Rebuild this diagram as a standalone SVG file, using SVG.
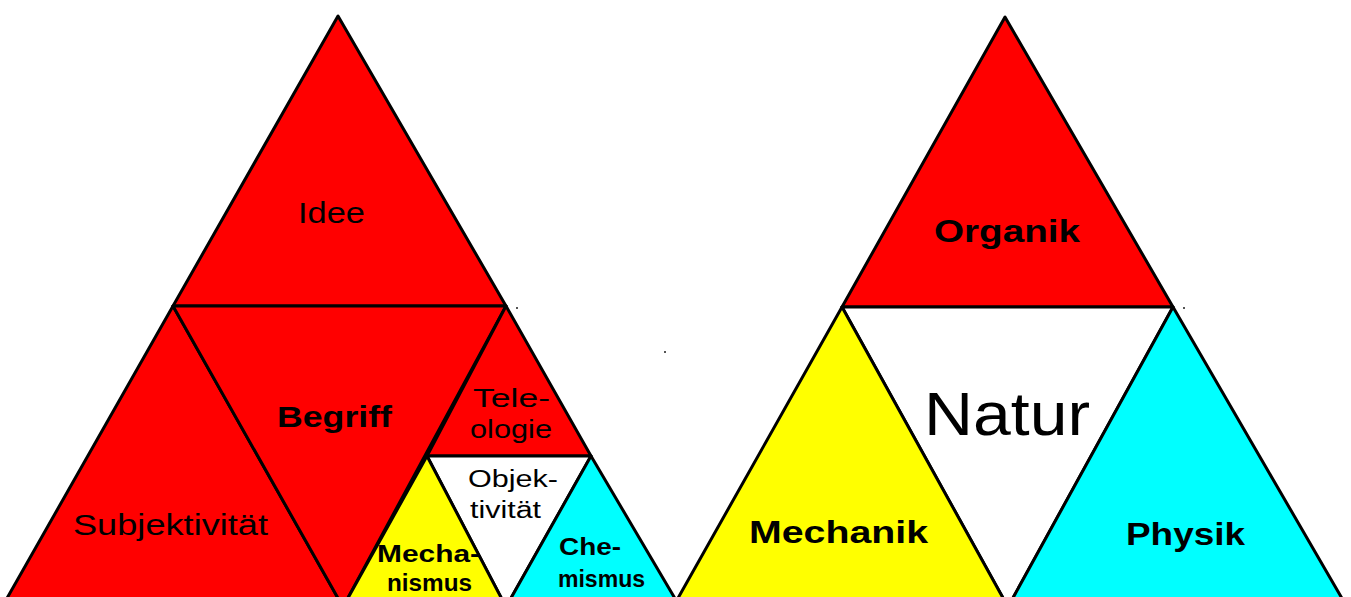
<svg xmlns="http://www.w3.org/2000/svg" width="1351" height="597" viewBox="0 0 1351 597">
  <style>
    .tri { stroke: #000; stroke-width: 3; stroke-linejoin: round; }
    .red { fill: #ff0000; }
    .yel { fill: #ffff00; }
    .cya { fill: #00ffff; }
    .wht { fill: #ffffff; }
    text { font-family: "Liberation Sans", Arial, sans-serif; fill: #000; text-anchor: middle; }
    .b { font-weight: bold; }
  </style>
  <rect width="1351" height="597" fill="#ffffff"/>

  <!-- Logik: Idee / Begriff / Subjektivität / Objektivität -->
  <g id="idee">
    <polygon class="tri red" points="338,16 173,306 506,306"/>
    <text x="331.5" y="223" font-size="30" textLength="67" lengthAdjust="spacingAndGlyphs">Idee</text>
  </g>
  <g id="subjektivitaet">
    <polygon class="tri red" points="173,306 2,607 343,607"/>
    <text x="170.5" y="535" font-size="30" textLength="195" lengthAdjust="spacingAndGlyphs">Subjektivität</text>
  </g>
  <g id="begriff">
    <polygon class="tri red" points="173,306 506,306 343,607"/>
    <text class="b" x="334.5" y="427" font-size="30" textLength="115" lengthAdjust="spacingAndGlyphs">Begriff</text>
  </g>
  <g id="teleologie">
    <polygon class="tri red" points="506,306 427,456 591,456"/>
    <text x="511.5" y="407" font-size="26" textLength="77" lengthAdjust="spacingAndGlyphs">Tele-</text>
    <text x="511" y="438" font-size="26" textLength="82" lengthAdjust="spacingAndGlyphs">ologie</text>
  </g>
  <g id="objektivitaet">
    <polygon class="tri wht" points="427,456 591,456 506,607"/>
    <text x="513" y="487" font-size="23" textLength="90" lengthAdjust="spacingAndGlyphs">Objek-</text>
    <text x="505.5" y="518" font-size="23" textLength="71" lengthAdjust="spacingAndGlyphs">tivität</text>
  </g>
  <g id="mechanismus">
    <polygon class="tri yel" points="427,456 343,607 506,607"/>
    <text class="b" x="428.5" y="562" font-size="23" textLength="103" lengthAdjust="spacingAndGlyphs">Mecha-</text>
    <text class="b" x="429.5" y="591" font-size="23" textLength="85" lengthAdjust="spacingAndGlyphs">nismus</text>
  </g>
  <g id="chemismus">
    <polygon class="tri cya" points="591,456 506,607 680,607"/>
    <text class="b" x="590" y="555" font-size="23" textLength="62" lengthAdjust="spacingAndGlyphs">Che-</text>
    <text class="b" x="601.5" y="587" font-size="23" textLength="87" lengthAdjust="spacingAndGlyphs">mismus</text>
  </g>

  <!-- Natur: Organik / Mechanik / Physik -->
  <g id="organik">
    <polygon class="tri red" points="1005,17 842,307 1173,307"/>
    <text class="b" x="1007" y="242" font-size="32" textLength="146" lengthAdjust="spacingAndGlyphs">Organik</text>
  </g>
  <g id="natur">
    <polygon class="tri wht" points="842,307 1173,307 1008,607"/>
    <text x="1007" y="435" font-size="62" textLength="166" lengthAdjust="spacingAndGlyphs">Natur</text>
  </g>
  <g id="mechanik">
    <polygon class="tri yel" points="842,307 673,607 1008,607"/>
    <text class="b" x="838.5" y="543" font-size="32" textLength="179" lengthAdjust="spacingAndGlyphs">Mechanik</text>
  </g>
  <g id="physik">
    <polygon class="tri cya" points="1173,307 1008,607 1347,607"/>
    <text class="b" x="1185.5" y="545" font-size="32" textLength="119" lengthAdjust="spacingAndGlyphs">Physik</text>
  </g>

  <!-- stray specks -->
  <g id="specks" fill="#555555">
    <rect x="516" y="307" width="2" height="2"/>
    <rect x="664" y="351" width="2" height="2"/>
    <rect x="1183" y="307" width="2" height="2"/>
  </g>
</svg>
